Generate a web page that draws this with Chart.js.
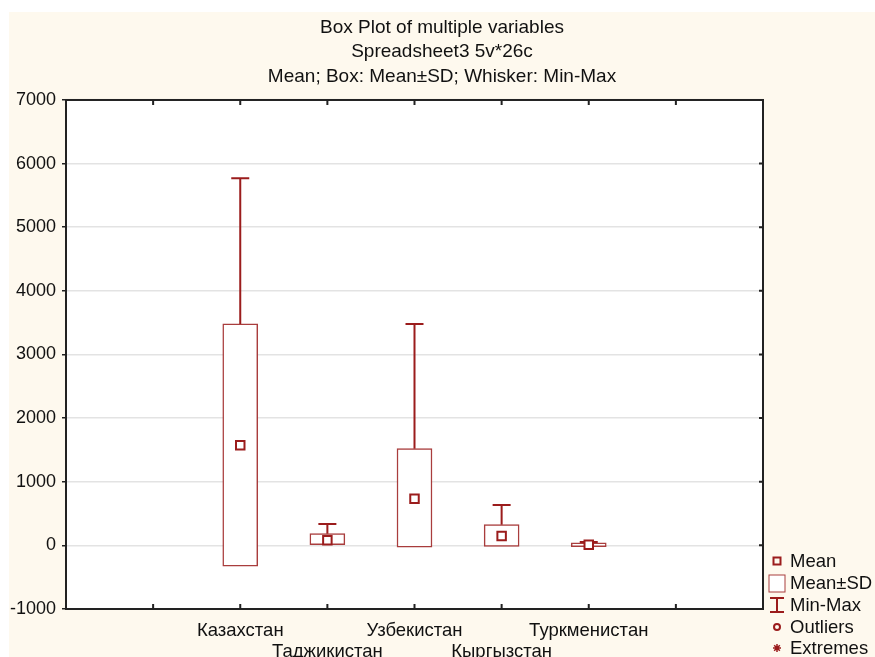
<!DOCTYPE html>
<html>
<head>
<meta charset="utf-8">
<script src="https://cdn.jsdelivr.net/npm/chart.js@4"></script>
<style>
  body { margin: 0; background: #fff; }
</style>
</head>
<body>
<canvas id="boxChart" width="875" height="657"></canvas>
<script>
// values
const categories = ["Казахстан", "Таджикистан", "Узбекистан", "Кыргызстан", "Туркменистан"];
const positions = [2, 3, 4, 5, 6];
const means = [1572, 79, 734, 146, 8];
const sdLow = [-325, 10, -27, -16, -20];
const sdHigh = [3480, 184, 1520, 325, 40];
const mins = [20, 10, 30, 15, 0];
const maxs = [5770, 335, 3480, 634, 52];
const legendLabels = ["Mean", "Mean±SD", "Min-Max", "Outliers", "Extremes"];

const dark = "#9b1c1c";
const boxLine = "rgba(160,40,40,0.9)";
const cream = "#fef9ee";
const font = "'Liberation Sans', Arial, sans-serif";

const boxData = positions.map((p, i) => ({ x: p, y: [sdLow[i], sdHigh[i]] }));
const meanData = positions.map((p, i) => ({ x: p, y: means[i] }));

const extras = {
  id: "extras",
  beforeDraw(chart) {
    const ctx = chart.ctx, a = chart.chartArea;
    ctx.save();
    ctx.fillStyle = "#fff";
    ctx.fillRect(0, 0, chart.width, chart.height);
    ctx.fillStyle = cream;
    ctx.fillRect(9, 12, chart.width - 9, chart.height - 12);
    ctx.fillStyle = "#fff";
    ctx.fillRect(a.left, a.top, a.right - a.left, a.bottom - a.top);
    ctx.restore();
  },
  beforeDatasetsDraw(chart) {
    const ctx = chart.ctx, xs = chart.scales.x, ys = chart.scales.y;
    ctx.save();
    ctx.strokeStyle = dark;
    ctx.lineWidth = 2;
    positions.forEach((p, i) => {
      const px = xs.getPixelForValue(p);
      const top = ys.getPixelForValue(sdHigh[i]);
      const yMax = ys.getPixelForValue(maxs[i]);
      ctx.beginPath();
      ctx.moveTo(px, top); ctx.lineTo(px, yMax);
      ctx.moveTo(px - 9, yMax); ctx.lineTo(px + 9, yMax);
      if (mins[i] < sdLow[i]) {
        const bot = ys.getPixelForValue(sdLow[i]);
        const yMin = ys.getPixelForValue(mins[i]);
        ctx.moveTo(px, bot); ctx.lineTo(px, yMin);
        ctx.moveTo(px - 9, yMin); ctx.lineTo(px + 9, yMin);
      }
      ctx.stroke();
    });
    ctx.restore();
  },
  afterDraw(chart) {
    const ctx = chart.ctx, a = chart.chartArea, xs = chart.scales.x, ys = chart.scales.y;
    ctx.save();
    // frame and inward ticks
    ctx.strokeStyle = "#222";
    ctx.lineWidth = 2;
    ctx.strokeRect(a.left, a.top, a.right - a.left, a.bottom - a.top);
    ctx.beginPath();
    xs.ticks.forEach(t => {
      if (t.value <= xs.min || t.value >= xs.max) return;
      const px = xs.getPixelForValue(t.value);
      ctx.moveTo(px, a.top); ctx.lineTo(px, a.top + 5);
      ctx.moveTo(px, a.bottom); ctx.lineTo(px, a.bottom - 5);
    });
    ys.ticks.forEach(t => {
      const py = ys.getPixelForValue(t.value);
      ctx.moveTo(a.right, py); ctx.lineTo(a.right - 4, py);
    });
    ctx.stroke();

    // legend
    const lx = 777, tx = 790;
    const rows = [561, 583, 605, 627, 648];
    ctx.font = "18.5px " + font;
    ctx.fillStyle = "#111";
    ctx.textBaseline = "middle";
    ctx.textAlign = "left";
    legendLabels.forEach((t, i) => ctx.fillText(t, tx, rows[i] + 1));
    ctx.strokeStyle = dark;
    ctx.lineWidth = 2;
    ctx.strokeRect(lx - 3.5, rows[0] - 3.5, 7, 7);
    ctx.lineWidth = 1;
    ctx.strokeStyle = boxLine;
    ctx.fillStyle = "#fff";
    ctx.fillRect(lx - 8, rows[1] - 8, 16, 17);
    ctx.strokeRect(lx - 8, rows[1] - 8, 16, 17);
    ctx.strokeStyle = dark;
    ctx.lineWidth = 2;
    ctx.beginPath();
    ctx.moveTo(lx, rows[2] - 7); ctx.lineTo(lx, rows[2] + 7);
    ctx.moveTo(lx - 7, rows[2] - 7); ctx.lineTo(lx + 7, rows[2] - 7);
    ctx.moveTo(lx - 7, rows[2] + 7); ctx.lineTo(lx + 7, rows[2] + 7);
    ctx.stroke();
    ctx.beginPath();
    ctx.arc(lx, rows[3], 3, 0, Math.PI * 2);
    ctx.stroke();
    ctx.lineWidth = 1.5;
    ctx.beginPath();
    for (let k = 0; k < 4; k++) {
      const ang = k * Math.PI / 4;
      ctx.moveTo(lx - 4 * Math.cos(ang), rows[4] - 4 * Math.sin(ang));
      ctx.lineTo(lx + 4 * Math.cos(ang), rows[4] + 4 * Math.sin(ang));
    }
    ctx.stroke();
    ctx.restore();
  }
};

Chart.defaults.font.family = font;
Chart.defaults.color = "#111";

new Chart("boxChart", {
  type: "bar",
  data: {
    datasets: [
      {
        type: "scatter",
        data: meanData,
        pointStyle: "rect",
        pointRadius: 6,
        pointBorderWidth: 2,
        backgroundColor: "#fff",
        borderColor: dark,
        order: 0
      },
      {
        type: "bar",
        data: boxData,
        backgroundColor: "#fff",
        borderColor: boxLine,
        borderWidth: 1.5,
        borderSkipped: false,
        barThickness: 35,
        order: 1
      }
    ]
  },
  options: {
    responsive: false,
    animation: false,
    devicePixelRatio: 1,
    layout: { padding: { left: 9, right: 0, top: 0, bottom: 0 } },
    plugins: {
      legend: { display: false },
      tooltip: { enabled: false },
      title: {
        display: true,
        text: ["Box Plot of multiple variables", "Spreadsheet3 5v*26c", "Mean; Box: Mean±SD; Whisker: Min-Max"],
        color: "#111",
        font: { size: 19, weight: "normal", lineHeight: 1.305 },
        padding: { top: 15, bottom: 10.6 }
      }
    },
    scales: {
      x: {
        type: "linear",
        offset: false,
        min: 0,
        max: 8,
        grid: { display: false, drawTicks: false, offset: false },
        border: { display: true, color: "#222", width: 2 },
        ticks: {
          stepSize: 1,
          autoSkip: false,
          maxRotation: 0,
          padding: 11,
          font: { size: 18.5, lineHeight: 1.16 },
          callback: (v) => {
            const i = positions.indexOf(v);
            if (i < 0) return "";
            return i % 2 === 0 ? [categories[i]] : ["", categories[i]];
          }
        },
        afterFit: (s) => { s.height = 48; }
      },
      y: {
        min: -1000,
        max: 7000,
        grid: { color: "#e3e3e3", lineWidth: 1.5, tickLength: 4, tickColor: "#222", tickWidth: 1.5 },
        border: { display: true, color: "#222", width: 2 },
        ticks: { stepSize: 1000, padding: 6, font: { size: 18 }, callback: (v) => String(v) },
        afterFit: (s) => { s.width = 57; }
      },
      yRight: {
        position: "right",
        display: true,
        grid: { display: false },
        border: { display: false },
        ticks: { display: false },
        afterFit: (s) => { s.width = 112; }
      }
    }
  },
  plugins: [extras]
});
</script>
</body>
</html>
